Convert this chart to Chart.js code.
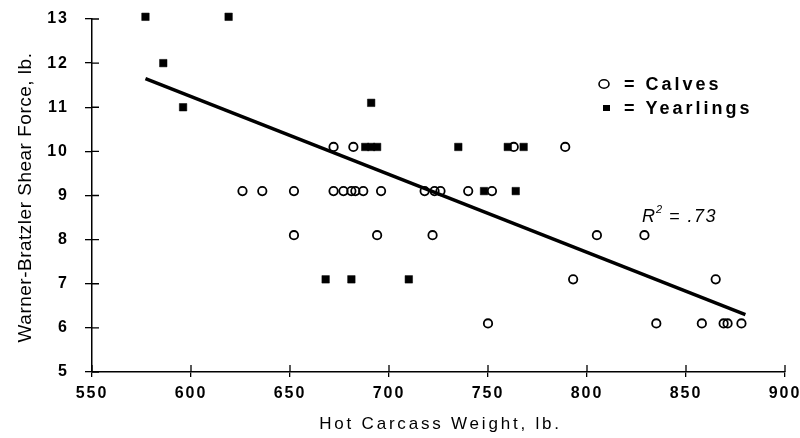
<!DOCTYPE html>
<html>
<head>
<meta charset="utf-8">
<script src="https://cdn.jsdelivr.net/npm/chart.js@4.4.0/dist/chart.umd.min.js"></script>
<style>
  body { margin: 0; background: #fff; }
  #wrap { width: 800px; height: 438px; }
</style>
</head>
<body>
<div id="wrap"><canvas id="chart"></canvas></div>
<script>
// calves (open circles)
const calvesX = [672, 682, 763, 789,
    626, 636, 652, 672, 677, 681, 683, 687, 696, 718, 723, 726, 740, 752,
    652, 694, 722, 805, 829,
    793, 865,
    750, 835, 858, 869, 871, 878];
const calvesY = [10.1, 10.1, 10.1, 10.1,
    9.1, 9.1, 9.1, 9.1, 9.1, 9.1, 9.1, 9.1, 9.1, 9.1, 9.1, 9.1, 9.1, 9.1,
    8.1, 8.1, 8.1, 8.1, 8.1,
    7.1, 7.1,
    6.1, 6.1, 6.1, 6.1, 6.1, 6.1];

// yearlings (filled squares)
const yearlingsX = [577, 619, 586, 596, 691, 688, 691, 694, 735, 760, 768, 748, 764, 668, 681, 710];
const yearlingsY = [13.05, 13.05, 12, 11, 11.1, 10.1, 10.1, 10.1, 10.1, 10.1, 10.1, 9.1, 9.1, 7.1, 7.1, 7.1];

// regression line end points
const fitX = [577, 880];
const fitY = [11.65, 6.3];

const xTicks = [550, 600, 650, 700, 750, 800, 850, 900];
const yTicks = [5, 6, 7, 8, 9, 10, 11, 12, 13];

const toPts = (xs, ys) => xs.map((x, i) => ({x: x, y: ys[i]}));

const tickFont = {family: 'Liberation Sans', size: 16, weight: 'bold'};

// wide letter spacing for tick labels, inner tick marks, titles, legend and R2 note
const extras = {
    id: 'extras',
    beforeDraw(chart) {
        chart.ctx.letterSpacing = '2px';
    },
    afterDraw(chart) {
        const ctx = chart.ctx;
        const xs = chart.scales.x, ys = chart.scales.y;
        const area = chart.chartArea;
        ctx.save();
        ctx.strokeStyle = '#000';
        ctx.fillStyle = '#000';
        ctx.lineWidth = 1.3;
        ctx.beginPath();
        xTicks.forEach(v => {
            const px = xs.getPixelForValue(v);
            ctx.moveTo(px, area.bottom);
            ctx.lineTo(px, area.bottom - 7);
        });
        yTicks.forEach(v => {
            const py = ys.getPixelForValue(v);
            ctx.moveTo(area.left, py);
            ctx.lineTo(area.left + 7, py);
        });
        ctx.stroke();

        // axis titles
        ctx.textAlign = 'center';
        ctx.textBaseline = 'middle';
        ctx.font = '17px "Liberation Sans"';
        ctx.letterSpacing = '2.8px';
        ctx.fillText('Hot Carcass Weight, lb.', (area.left + area.right) / 2 + 2, 424);
        ctx.save();
        ctx.translate(26, (area.top + area.bottom) / 2 + 2);
        ctx.rotate(-Math.PI / 2);
        ctx.font = '19px "Liberation Sans"';
        ctx.letterSpacing = '0.5px';
        ctx.fillText('Warner-Bratzler Shear Force, lb.', 0, 0);
        ctx.restore();

        // legend
        ctx.textAlign = 'left';
        ctx.font = 'bold 18px "Liberation Sans"';
        ctx.letterSpacing = '3px';
        ctx.beginPath();
        ctx.ellipse(604, 84, 5, 4.2, 0, 0, Math.PI * 2);
        ctx.lineWidth = 1.6;
        ctx.stroke();
        ctx.fillText('= Calves', 624, 85);
        ctx.fillRect(603, 105, 7, 6);
        ctx.fillText('= Yearlings', 624, 109);

        // R squared
        ctx.letterSpacing = '1px';
        ctx.font = 'italic 18px "Liberation Sans"';
        ctx.fillText('R', 642, 217);
        ctx.font = 'italic 11px "Liberation Sans"';
        ctx.fillText('2', 656, 210);
        ctx.font = 'italic 18px "Liberation Sans"';
        ctx.letterSpacing = '1.5px';
        ctx.fillText('= .73', 669, 217);
        ctx.restore();
    }
};

new Chart(document.getElementById('chart'), {
    type: 'scatter',
    data: {
        datasets: [{
            label: 'Calves',
            data: toPts(calvesX, calvesY),
            pointStyle: 'circle',
            pointRadius: 4.2,
            borderColor: '#000',
            borderWidth: 1.8,
            backgroundColor: 'rgba(0,0,0,0)',
            clip: false
        }, {
            label: 'Yearlings',
            data: toPts(yearlingsX, yearlingsY),
            pointStyle: 'rect',
            pointRadius: 5.3,
            borderColor: '#000',
            borderWidth: 0.5,
            backgroundColor: '#000',
            clip: false
        }, {
            type: 'line',
            label: 'Fit',
            data: toPts(fitX, fitY),
            borderColor: '#000',
            borderWidth: 3.5,
            pointRadius: 0,
            fill: false
        }]
    },
    options: {
        responsive: true,
        maintainAspectRatio: false,
        animation: false,
        layout: {padding: {top: 19, right: 15, left: 0, bottom: 0}},
        plugins: {
            legend: {display: false},
            tooltip: {enabled: false}
        },
        scales: {
            x: {
                type: 'linear',
                min: 550,
                max: 900,
                afterBuildTicks: s => { s.ticks = xTicks.map(v => ({value: v})); },
                afterFit: s => { s.height = 66; s.paddingLeft = 0; s.paddingRight = 0; },
                grid: {drawOnChartArea: false, tickLength: 5, color: '#000', lineWidth: 1.3},
                border: {color: '#000', width: 1.5},
                ticks: {color: '#000', font: tickFont, padding: 7, maxRotation: 0}
            },
            y: {
                min: 5,
                max: 13,
                afterBuildTicks: s => { s.ticks = yTicks.map(v => ({value: v})); },
                afterFit: s => { s.width = 92; s.paddingTop = 0; s.paddingBottom = 0; },
                grid: {drawOnChartArea: false, tickLength: 7, color: '#000', lineWidth: 1.3},
                border: {color: '#000', width: 1.5},
                ticks: {color: '#000', font: tickFont, padding: 16}
            }
        }
    },
    plugins: [extras]
});
</script>
</body>
</html>
